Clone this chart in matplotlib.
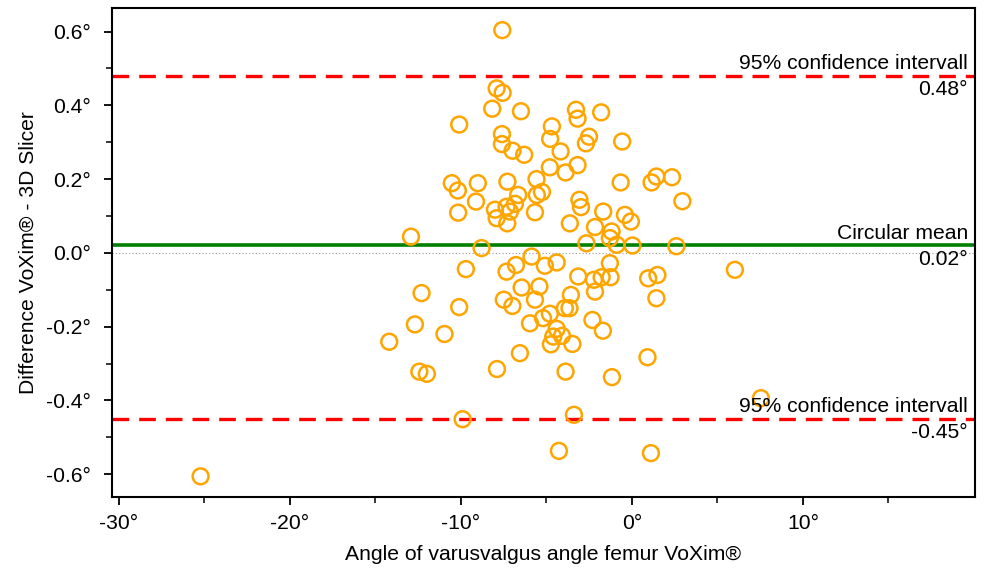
import matplotlib
matplotlib.use("Agg")
import matplotlib.pyplot as plt
import matplotlib.transforms as mtransforms

plt.rcParams['font.family'] = ['Liberation Sans', 'DejaVu Sans']
plt.rcParams['axes.unicode_minus'] = False

# Data
x_vals = [-7.58, -7.91, -7.56, -8.17, -6.49, -10.10, -3.27, -3.18, -1.80, -4.68,
          -4.78, -7.60, -7.60, -6.98, -6.30, -4.17, -2.51, -2.69, -0.57, -4.80,
          -3.18, -3.88, -0.66, 1.15, 1.43, 2.34, -10.53, -10.18, -9.01, -7.28,
          -5.58, -6.65, -6.84, -5.56, -5.26, -3.07, -2.98, 2.95, -9.12, -10.16,
          -8.01, -7.91, -7.33, -7.13, -7.29, -5.67, -3.63, -1.68, -0.41, -0.06,
          -2.16, -1.19, -1.29, -2.66, -0.89, 0.03, 2.60, -12.92, -8.79, -5.87,
          -9.71, -7.33, -6.78, -5.09, -4.40, -1.29, -3.14, -2.22, -1.77, -1.25,
          -2.16, 0.95, 1.49, 1.43, 6.02, -12.30, -6.45, -5.41, -5.67, -7.49,
          -6.99, -10.10, -3.57, -3.92, -3.65, -12.69, -10.96, -14.19, -5.96, -5.20,
          -4.80, -2.31, -1.70, -4.40, -4.60, -4.09, -4.74, -3.48, -6.55, 0.91,
          -7.89, -12.43, -11.99, -3.88, -1.17, -9.90, -3.39, -4.27, 1.11, 7.54,
          -25.22]
y_vals = [0.604, 0.446, 0.434, 0.391, 0.384, 0.348, 0.388, 0.364, 0.381, 0.343,
          0.309, 0.322, 0.295, 0.277, 0.266, 0.275, 0.315, 0.297, 0.302, 0.232,
          0.238, 0.218, 0.191, 0.191, 0.207, 0.205, 0.189, 0.169, 0.189, 0.193,
          0.200, 0.157, 0.133, 0.157, 0.165, 0.144, 0.124, 0.140, 0.139, 0.109,
          0.117, 0.094, 0.125, 0.112, 0.080, 0.110, 0.080, 0.112, 0.103, 0.085,
          0.070, 0.058, 0.040, 0.026, 0.022, 0.020, 0.018, 0.044, 0.013, -0.010,
          -0.044, -0.051, -0.033, -0.035, -0.026, -0.028, -0.064, -0.073, -0.066, -0.066,
          -0.105, -0.069, -0.060, -0.123, -0.046, -0.109, -0.094, -0.091, -0.127, -0.127,
          -0.144, -0.147, -0.114, -0.150, -0.150, -0.194, -0.220, -0.241, -0.191, -0.177,
          -0.165, -0.182, -0.211, -0.206, -0.227, -0.225, -0.248, -0.247, -0.272, -0.283,
          -0.315, -0.322, -0.328, -0.322, -0.337, -0.451, -0.439, -0.537, -0.543, -0.394,
          -0.606]

mean_val = 0.02
upper_loa = 0.48
lower_loa = -0.45
ci_label = "95% confidence intervall"
mean_label = "Circular mean"

x_ticks = [-30, -20, -10, 0, 10]
x_minor = [-25, -15, -5, 5, 15]
y_ticks = [-0.6, -0.4, -0.2, 0.0, 0.2, 0.4, 0.6]
y_minor = [-0.5, -0.3, -0.1, 0.1, 0.3, 0.5]
x_tick_labels = ["-30°", "-20°", "-10°", "0°", "10°"]
y_tick_labels = ["-0.6°", "-0.4°", "-0.2°", "0.0°", "0.2°", "0.4°", "0.6°"]

fig = plt.figure(figsize=(9.84, 5.73), dpi=100)
ax = fig.add_axes([112/984, 1 - 497/573, (975-112)/984, (497-8)/573])

ax.axhline(0, color='#999999', lw=0.8, ls=(0, (1, 2)), zorder=1)
ax.axhline(mean_val, color='#008000', lw=2.6, zorder=2)
ax.axhline(upper_loa, color='#FF0000', lw=2.4, ls=(0, (5, 3)), zorder=2)
ax.axhline(lower_loa, color='#FF0000', lw=2.4, ls=(0, (5, 3)), zorder=2)

ax.scatter(x_vals, y_vals, s=130, facecolors='none', edgecolors='#FFA500',
           linewidths=1.8, zorder=3)

ax.set_xlim(-30.4, 20.06)
ax.set_ylim(-0.662, 0.664)

fs = 15.2
ax.set_xticks(x_ticks)
ax.set_xticklabels(x_tick_labels)
ax.set_xticks(x_minor, minor=True)
ax.set_yticks(y_ticks)
ax.set_yticklabels(y_tick_labels)
ax.set_yticks(y_minor, minor=True)
ax.tick_params(axis='both', which='major', length=6, width=1.3, labelsize=fs, color='black')
ax.tick_params(axis='y', which='major', pad=9)
ax.tick_params(axis='x', which='major', pad=6)
ax.tick_params(axis='both', which='minor', length=4, width=1.1, color='black')
for sp in ax.spines.values():
    sp.set_linewidth(1.5)

ax.set_xlabel("Angle of varusvalgus angle femur VoXim®", fontsize=fs, labelpad=9)
ax.set_ylabel("Difference VoXim® - 3D Slicer", fontsize=fs, labelpad=6)

trans = mtransforms.blended_transform_factory(ax.transAxes, ax.transData)
xr = 0.992
ax.text(xr, upper_loa + 0.007, ci_label, transform=trans, ha='right', va='bottom', fontsize=fs, zorder=4)
ax.text(xr, upper_loa - 0.012, f"{upper_loa:.2f}°", transform=trans, ha='right', va='top', fontsize=fs, zorder=4)
ax.text(xr, mean_val + 0.007, mean_label, transform=trans, ha='right', va='bottom', fontsize=fs, zorder=4)
ax.text(xr, mean_val - 0.012, f"{mean_val:.2f}°", transform=trans, ha='right', va='top', fontsize=fs, zorder=4)
ax.text(xr, lower_loa + 0.007, ci_label, transform=trans, ha='right', va='bottom', fontsize=fs, zorder=4)
ax.text(xr, lower_loa - 0.012, f"{lower_loa:.2f}°", transform=trans, ha='right', va='top', fontsize=fs, zorder=4)

fig.savefig("out.png", dpi=100)
